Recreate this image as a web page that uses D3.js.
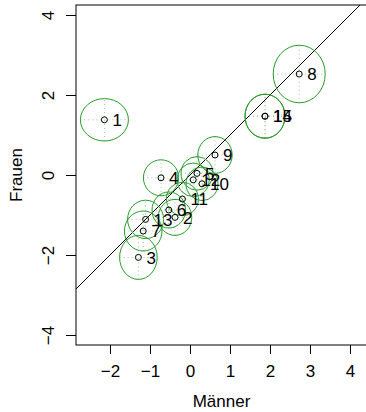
<!DOCTYPE html>
<html>
<head>
<meta charset="utf-8">
<script src="https://cdn.jsdelivr.net/npm/d3@7"></script>
<style>
  body { margin: 0; background: #fff; }
  svg { display: block; font-family: "Liberation Sans", Arial, sans-serif; }
</style>
</head>
<body>
<div id="chart"></div>
<script>
// one entry per case (1..15)
var labels = ["1","2","3","4","5","6","7","8","9","10","11","12","13","14","15"];
var maenner = [-2.14, -0.375, -1.29, -0.725, 0.175, -0.53, -1.17, 2.73, 0.625, 0.30, -0.19, 0.08, -1.11, 1.875, 1.875];
var frauen  = [1.38, -1.06, -2.06, -0.07, 0.04, -0.875, -1.40, 2.525, 0.50, -0.22, -0.60, -0.12, -1.11, 1.47, 1.47];
// half widths of the ellipses in data units
var errX = [0.60, 0.42, 0.47, 0.44, 0.40, 0.42, 0.47, 0.65, 0.43, 0.40, 0.40, 0.40, 0.45, 0.50, 0.50];
var errY = [0.53, 0.45, 0.55, 0.45, 0.42, 0.45, 0.50, 0.72, 0.46, 0.42, 0.42, 0.42, 0.48, 0.55, 0.55];
var xTicks = [-2, -1, 0, 1, 2, 3, 4];
var yTicks = [-4, -2, 0, 2, 4];

var W = 366, H = 412;
var plotL = 76, plotT = 5, plotR = 367, plotB = 345;
var fs = 17;

var x = d3.scaleLinear().domain([-2.85, 4.425]).range([plotL, plotR]);
var y = d3.scaleLinear().domain([-4.25, 4.25]).range([plotB, plotT]);

var svg = d3.select("#chart").append("svg").attr("width", W).attr("height", H);

svg.append("clipPath").attr("id", "plotclip")
  .append("rect").attr("x", plotL).attr("y", plotT).attr("width", plotR - plotL).attr("height", plotB - plotT);

var plot = svg.append("g").attr("clip-path", "url(#plotclip)");

var pts = labels.map(function (l, i) {
  return {lab: l, mx: maenner[i], fy: frauen[i], ex: errX[i], ey: errY[i]};
});

// identity line
plot.append("line")
  .attr("x1", x(-5)).attr("y1", y(-5))
  .attr("x2", x(5)).attr("y2", y(5))
  .attr("stroke", "#000").attr("stroke-width", 1);

// dotted crosses
var green = "#2a9a2a";
plot.selectAll(".hx").data(pts).enter().append("line")
  .attr("x1", function (d) { return x(d.mx - d.ex); })
  .attr("x2", function (d) { return x(d.mx + d.ex); })
  .attr("y1", function (d) { return y(d.fy); })
  .attr("y2", function (d) { return y(d.fy); })
  .attr("stroke", "#8fd08f").attr("stroke-width", 1).attr("stroke-dasharray", "1,3");
plot.selectAll(".vy").data(pts).enter().append("line")
  .attr("x1", function (d) { return x(d.mx); })
  .attr("x2", function (d) { return x(d.mx); })
  .attr("y1", function (d) { return y(d.fy - d.ey); })
  .attr("y2", function (d) { return y(d.fy + d.ey); })
  .attr("stroke", "#8fd08f").attr("stroke-width", 1).attr("stroke-dasharray", "1,3");

// ellipses
plot.selectAll("ellipse").data(pts).enter().append("ellipse")
  .attr("cx", function (d) { return x(d.mx); })
  .attr("cy", function (d) { return y(d.fy); })
  .attr("rx", function (d) { return x(d.mx + d.ex) - x(d.mx); })
  .attr("ry", function (d) { return y(d.fy) - y(d.fy + d.ey); })
  .attr("fill", "none").attr("stroke", green).attr("stroke-width", 1);

// points
plot.selectAll("circle").data(pts).enter().append("circle")
  .attr("cx", function (d) { return x(d.mx); })
  .attr("cy", function (d) { return y(d.fy); })
  .attr("r", 3)
  .attr("fill", "none").attr("stroke", "#000").attr("stroke-width", 1);

// point labels
plot.selectAll(".lab").data(pts).enter().append("text")
  .attr("x", function (d) { return x(d.mx) + 8; })
  .attr("y", function (d) { return y(d.fy); })
  .attr("dy", "0.36em")
  .attr("font-size", fs)
  .attr("fill", "#000")
  .text(function (d) { return d.lab; });

// box
svg.append("rect").attr("x", plotL).attr("y", plotT)
  .attr("width", plotR - plotL).attr("height", plotB - plotT)
  .attr("fill", "none").attr("stroke", "#000").attr("stroke-width", 1);

var fmt = function (d) { return d < 0 ? "\u2212" + Math.abs(d) : String(d); };

var xa = svg.append("g").attr("transform", "translate(0," + plotB + ")")
  .call(d3.axisBottom(x).tickValues(xTicks).tickSize(9).tickFormat(fmt));
xa.select(".domain").remove();
xa.selectAll("text")
  .attr("font-size", fs).attr("font-family", "Liberation Sans, Arial, sans-serif").attr("fill", "#000")
  .attr("y", 26).attr("dy", "0.36em");

var ya = svg.append("g").attr("transform", "translate(" + plotL + ",0)")
  .call(d3.axisLeft(y).tickValues(yTicks).tickSize(10).tickFormat(fmt));
ya.select(".domain").remove();
ya.selectAll("text")
  .attr("font-size", fs).attr("font-family", "Liberation Sans, Arial, sans-serif").attr("fill", "#000")
  .attr("x", null).attr("dy", null)
  .attr("text-anchor", "middle")
  .attr("transform", "translate(-28,0) rotate(-90)")
  .attr("y", 0).attr("dy", "0.36em");

svg.append("text").attr("x", (plotL + plotR) / 2).attr("y", 401).attr("dy", "0.36em")
  .attr("text-anchor", "middle").attr("font-size", fs).text("M\u00e4nner");

svg.append("text").attr("transform", "translate(16," + (plotT + plotB) / 2 + ") rotate(-90)")
  .attr("dy", "0.36em").attr("text-anchor", "middle").attr("font-size", fs).text("Frauen");
</script>
</body>
</html>
